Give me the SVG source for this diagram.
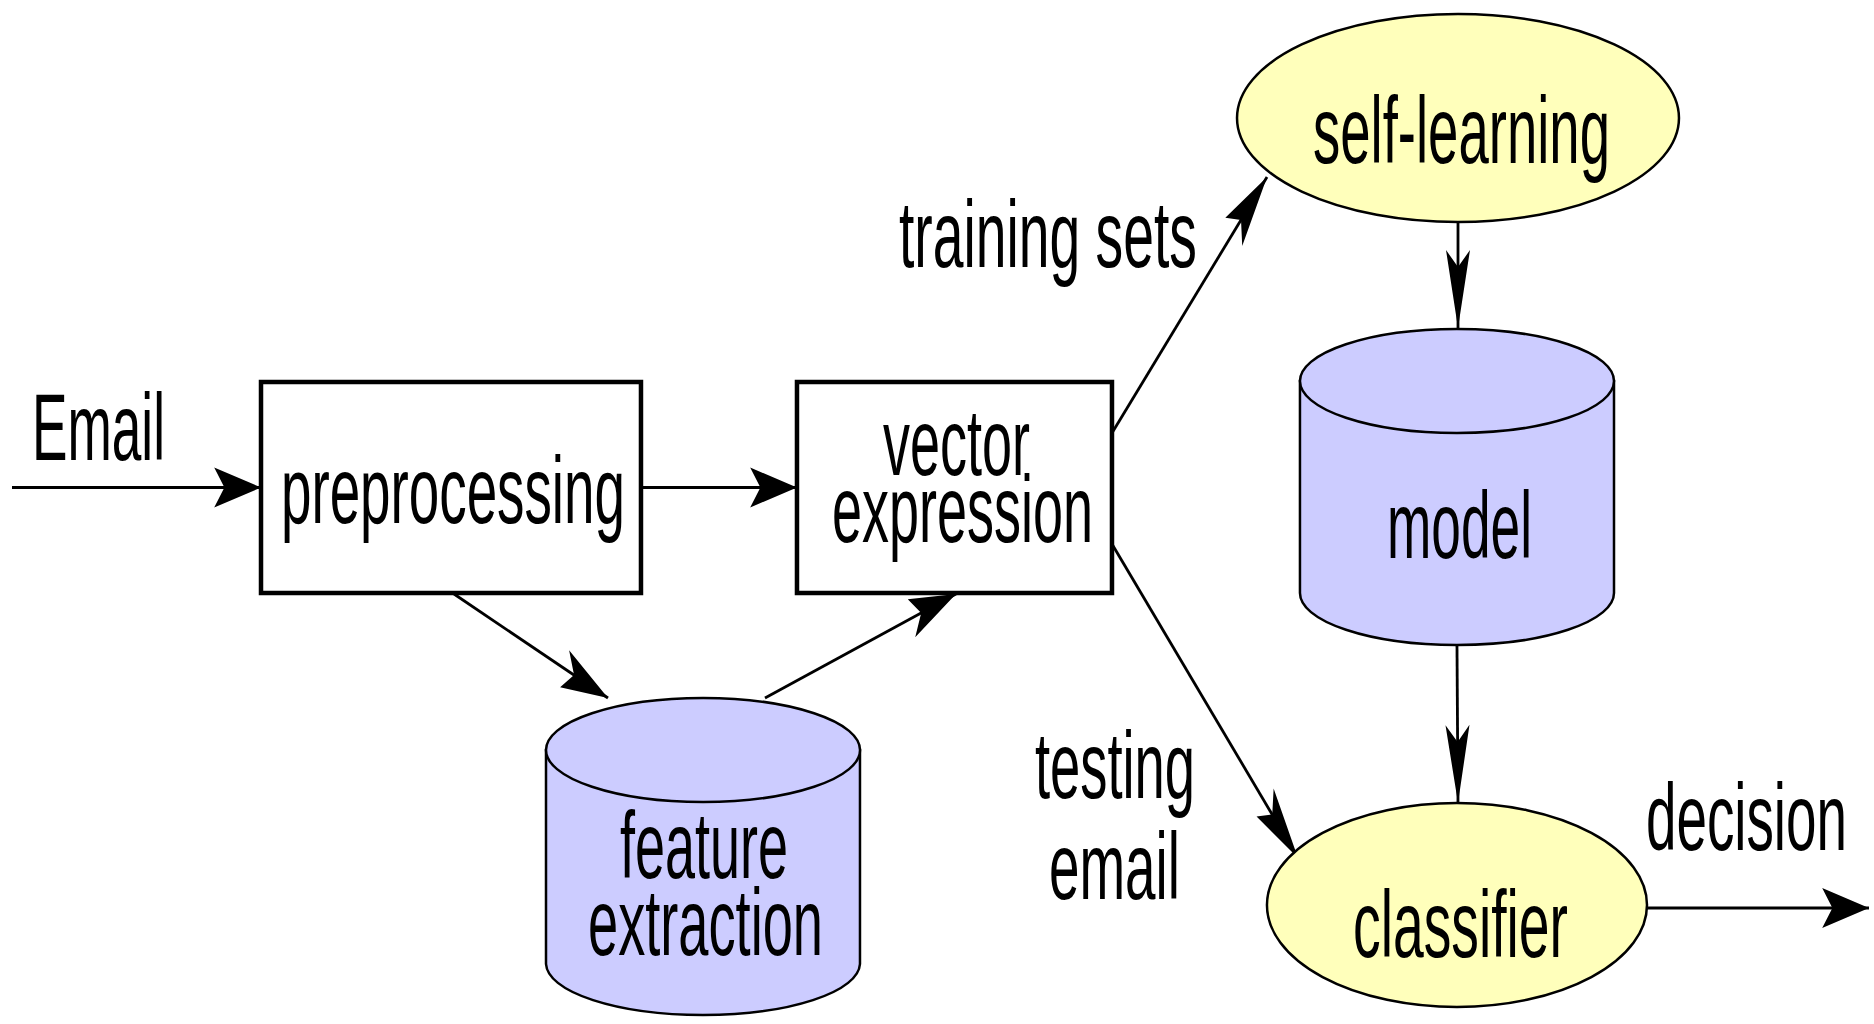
<svg xmlns="http://www.w3.org/2000/svg" width="1874" height="1024" viewBox="0 0 1874 1024">
<style>
text{font-family:"Liberation Sans",Arial,sans-serif;font-size:94px;fill:#000}
.box{fill:#fff;stroke:#000;stroke-width:4.5;vector-effect:non-scaling-stroke}
.cyl{fill:#ccccff;stroke:#000;stroke-width:2.5;vector-effect:non-scaling-stroke}
.ell{fill:#ffffbb;stroke:#000;stroke-width:2.5;vector-effect:non-scaling-stroke}
.con{fill:none;stroke:#000;stroke-width:2.8;vector-effect:non-scaling-stroke;marker-end:url(#ah)}
</style>
<defs>
<marker id="ah" markerUnits="userSpaceOnUse" orient="auto" refX="0" refY="0" markerWidth="200" markerHeight="200" overflow="visible">
<path d="M0,0 L-78,-20 L-61,0 L-78,20 Z" fill="#000"/>
</marker>
</defs>
<rect width="1874" height="1024" fill="#fff"/>
<g transform="scale(0.6,1)">
<g id="connectors">
<line class="con" x1="20" y1="487.5" x2="435" y2="487.5"/>
<line class="con" x1="1068.3" y1="487.5" x2="1328.3" y2="487.5"/>
<line class="con" x1="756.7" y1="594" x2="1013.3" y2="698"/>
<line class="con" x1="1275" y1="698" x2="1593.3" y2="594"/>
<line class="con" x1="1853.3" y1="433" x2="2111.7" y2="177"/>
<line class="con" x1="1853.3" y1="544" x2="2163.3" y2="858"/>
<line class="con" x1="2430" y1="222" x2="2430" y2="328"/>
<line class="con" x1="2428.3" y1="645" x2="2430" y2="803"/>
<line class="con" x1="2745" y1="908" x2="3115" y2="908"/>
</g>
<g id="labels">
<text x="53.3" y="460" textLength="221.7" lengthAdjust="spacingAndGlyphs">Email</text>
<text x="1498.3" y="267" textLength="496.7" lengthAdjust="spacingAndGlyphs">training sets</text>
<text x="1725" y="798" textLength="266.7" lengthAdjust="spacingAndGlyphs">testing</text>
<text x="1748.3" y="899" textLength="218.3" lengthAdjust="spacingAndGlyphs">email</text>
<text x="2743.3" y="850" textLength="335" lengthAdjust="spacingAndGlyphs">decision</text>
</g>
<g id="preprocessing">
<rect class="box" x="435" y="382" width="633.3" height="211"/>
<text x="468.3" y="523" textLength="573.3" lengthAdjust="spacingAndGlyphs">preprocessing</text>
</g>
<g id="vector-expression">
<rect class="box" x="1328.3" y="382" width="525" height="211"/>
<text x="1471.7" y="475" textLength="245" lengthAdjust="spacingAndGlyphs">vector</text>
<text x="1386.7" y="542" textLength="435" lengthAdjust="spacingAndGlyphs">expression</text>
</g>
<g id="feature-extraction">
<path class="cyl" d="M910,750 L910,964 A261.7,52 0 0 0 1433.3,964 L1433.3,750 Z"/>
<ellipse class="cyl" cx="1171.7" cy="750" rx="261.7" ry="52"/>
<text x="1033.3" y="878" textLength="280" lengthAdjust="spacingAndGlyphs">feature</text>
<text x="980" y="955" textLength="391.7" lengthAdjust="spacingAndGlyphs">extraction</text>
</g>
<g id="self-learning">
<ellipse class="ell" cx="2430" cy="118" rx="368.3" ry="104"/>
<text x="2188.3" y="163" textLength="495" lengthAdjust="spacingAndGlyphs">self-learning</text>
</g>
<g id="model">
<path class="cyl" d="M2166.6,381 L2166.6,593 A261.7,52 0 0 0 2690,593 L2690,381 Z"/>
<ellipse class="cyl" cx="2428.3" cy="381" rx="261.7" ry="52"/>
<text x="2311.7" y="558" textLength="241.7" lengthAdjust="spacingAndGlyphs">model</text>
</g>
<g id="classifier">
<ellipse class="ell" cx="2428.3" cy="905" rx="316.7" ry="102"/>
<text x="2255" y="957" textLength="358.3" lengthAdjust="spacingAndGlyphs">classifier</text>
</g>
</g>
</svg>
